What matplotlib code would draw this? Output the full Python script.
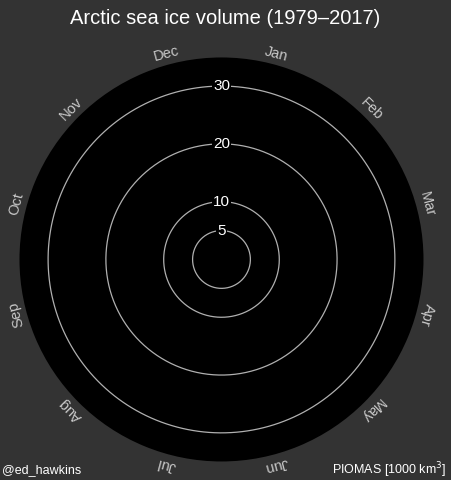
import matplotlib.pyplot as plt
import numpy as np

plt.rcParams['font.family'] = ['Liberation Sans', 'DejaVu Sans']

# ── DATA ──────────────────────────────────────────────
months = ['Jan', 'Feb', 'Mar', 'Apr', 'May', 'Jun',
          'Jul', 'Aug', 'Sep', 'Oct', 'Nov', 'Dec']
rings = [5, 10, 20, 30]
r_max = 34.95

# ── FIGURE ────────────────────────────────────────────
fig = plt.figure(figsize=(4.51, 4.80), dpi=100, facecolor='#333333')
ax = fig.add_axes([0.0432, 0.0386, 0.8958, 0.8417], projection='polar')
ax.set_facecolor('black')
ax.set_theta_zero_location('N')
ax.set_theta_direction(-1)
ax.set_ylim(0, r_max)
ax.grid(False)
ax.set_xticks([])
ax.set_yticks([])
ax.spines['polar'].set_visible(False)

# rings with labels
theta = np.linspace(0, 2 * np.pi, 400)
for r in rings:
    ax.plot(theta, np.full_like(theta, r), color='#b0b0b0', linewidth=0.9)
    ax.text(0, r, str(r), color='white', fontsize=11, ha='center', va='center',
            bbox=dict(facecolor='black', edgecolor='none', pad=1.0), zorder=5)

# month labels around the edge
for i, m in enumerate(months):
    ang = (i + 0.5) * 2 * np.pi / 12
    ax.text(ang, 36.8, m, color='#c8c8c8', fontsize=10.5,
            rotation=-np.degrees(ang), rotation_mode='anchor',
            ha='center', va='center', clip_on=False)

fig.text(0.5, 0.962, 'Arctic sea ice volume (1979\u20132017)', color='white',
         fontsize=14.5, ha='center', va='center')
fig.text(0.005, 0.02, '@ed_hawkins', color='white', fontsize=9,
         ha='left', va='center')
fig.text(0.99, 0.02, 'PIOMAS [1000 km$^3$]', color='white', fontsize=9,
         ha='right', va='center')

plt.savefig('out.png', dpi=100, facecolor=fig.get_facecolor())
